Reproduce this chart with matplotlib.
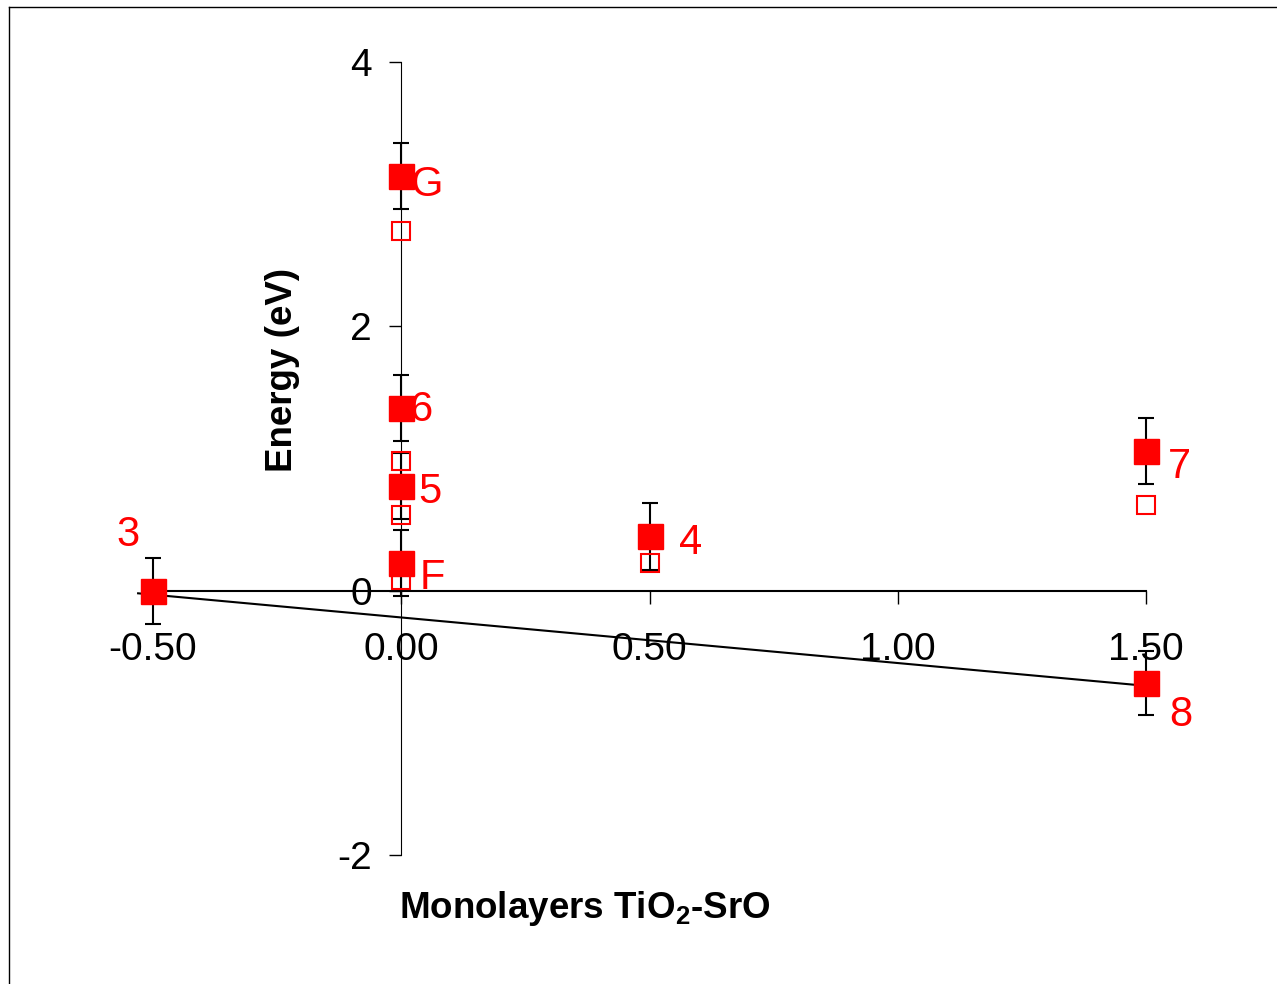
import matplotlib
matplotlib.use('Agg')
import matplotlib.pyplot as plt
from matplotlib.lines import Line2D

plt.rcParams['font.family'] = ['Liberation Sans', 'DejaVu Sans']
plt.rcParams['mathtext.fontset'] = 'custom'
plt.rcParams['mathtext.rm'] = 'Liberation Sans'
plt.rcParams['mathtext.bf'] = 'Liberation Sans:bold'
plt.rcParams['axes.unicode_minus'] = False

# filled points (with error bars)
labels = ['3', 'G', '6', '5', 'F', '4', '7', '8']
x_filled = [-0.5, 0.0, 0.0, 0.0, 0.0, 0.5, 1.5, 1.5]
y_filled = [0.0, 3.14, 1.38, 0.79, 0.21, 0.41, 1.06, -0.70]
y_err = [0.25, 0.25, 0.25, 0.25, 0.25, 0.25, 0.25, 0.24]

# open points
x_open = [0.0, 0.0, 0.0, 0.0, 0.5, 1.5]
y_open = [2.72, 0.98, 0.575, 0.08, 0.21, 0.65]

# straight line
trend_x = [-0.53, 1.5]
trend_y = [-0.02, -0.72]

x_ticks = [-0.5, 0.0, 0.5, 1.0, 1.5]
x_ticklabels = ['-0.50', '0.00', '0.50', '1.00', '1.50']
y_ticks = [-2, 0, 2, 4]

# label offsets (points) and alignment
label_offsets = {
    '3': (-18, 40, 'center'),
    'G': (7, -7, 'left'),
    '6': (6, -1, 'left'),
    '5': (12, -4, 'left'),
    'F': (13, -11, 'left'),
    '4': (21, -5, 'left'),
    '7': (16, -12, 'left'),
    '8': (17, -23, 'left'),
}

fig = plt.figure(figsize=(12.77, 9.84), dpi=100)
ax = fig.add_axes([153 / 1277, 129 / 984, 993 / 1277, 793 / 984])
ax.set_xlim(-0.5, 1.5)
ax.set_ylim(-2, 4)
ax.patch.set_alpha(0)

# Spines crossing at origin
ax.spines['left'].set_position(('data', 0))
ax.spines['bottom'].set_position(('data', 0))
ax.spines['top'].set_visible(False)
ax.spines['right'].set_visible(False)
ax.spines['left'].set_linewidth(0.8)
ax.spines['bottom'].set_linewidth(1.5)

ax.set_xticks(x_ticks)
ax.set_xticklabels(x_ticklabels)
ax.set_yticks(y_ticks)
ax.tick_params(axis='x', direction='out', length=9, width=1, pad=21, labelsize=28)
ax.tick_params(axis='y', direction='out', length=9, width=1, pad=12, labelsize=28)

ax.plot(trend_x, trend_y, color='black', lw=1.5, zorder=2, clip_on=False)

ax.errorbar(x_filled, y_filled, yerr=y_err, fmt='none', ecolor='black',
            elinewidth=1.5, capsize=5.5, capthick=1.5, zorder=3, clip_on=False)
ax.plot(x_open, y_open, 's', ms=13, mfc='none', mec='red', mew=1.5,
        zorder=4, clip_on=False)
ax.plot(x_filled, y_filled, 's', ms=18, color='red', mec='red',
        zorder=5, clip_on=False)

for lab, x, y in zip(labels, x_filled, y_filled):
    dx, dy, ha = label_offsets[lab]
    ax.annotate(lab, (x, y), xytext=(dx, dy), textcoords='offset points',
                ha=ha, va='center', color='red', fontsize=30)

fig.text(283 / 1277, 1 - 370 / 984, 'Energy (eV)', rotation=90,
         ha='center', va='center', fontsize=26.5, fontweight='bold')
fig.text(585 / 1277, 1 - 908 / 984, r'Monolayers TiO$_\mathbf{2}$-SrO',
         ha='center', va='center', fontsize=26.5, fontweight='bold')

# outer frame
fig.add_artist(Line2D([8.5 / 1277, 8.5 / 1277], [0, 1 - 6.5 / 984],
                      transform=fig.transFigure, color='black', lw=1))
fig.add_artist(Line2D([8.5 / 1277, 1], [1 - 6.5 / 984, 1 - 6.5 / 984],
                      transform=fig.transFigure, color='black', lw=1))

fig.savefig('out.png', dpi=100)
